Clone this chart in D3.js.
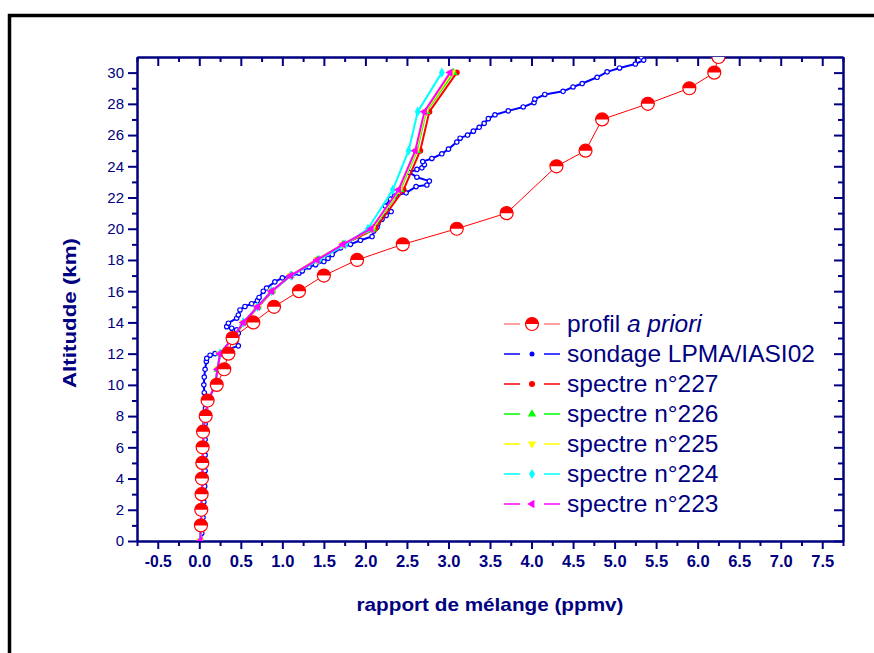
<!DOCTYPE html>
<html>
<head>
<meta charset="utf-8">
<script src="https://cdn.jsdelivr.net/npm/d3@7"></script>
<style>
  body { margin: 0; background: #fff; }
  svg { font-family: "Liberation Sans", Arial, sans-serif; }
</style>
</head>
<body>
<div id="chart"></div>
<script>
// profil a priori
const prioriAlt = [1, 2, 3, 4, 5, 6, 7, 8, 9, 10, 11, 12, 13, 14, 15, 16, 17, 18, 19, 20, 21, 24, 25, 27, 28, 29, 30, 31];
const prioriVal = [0.02, 0.024, 0.028, 0.032, 0.036, 0.04, 0.045, 0.077, 0.10, 0.21, 0.30, 0.35, 0.40, 0.65, 0.90, 1.20, 1.50, 1.90, 2.45, 3.10, 3.70, 4.30, 4.65, 4.85, 5.40, 5.90, 6.20, 6.25];

// sondage LPMA/IASI02
const sondAlt = [0, 0.5, 1, 1.5, 2, 2.5, 3, 3.5, 4, 4.5, 5, 5.5, 6, 6.5, 7, 7.5, 8, 8.5, 9, 9.5, 10, 10.5, 11, 11.5, 11.7, 11.9, 12.0,
  12.5, 12.8, 13.1, 13.3, 13.52, 13.63, 13.73, 13.95, 14.27, 14.48, 14.8, 15.02, 15.2, 15.4, 15.6, 16.0, 16.2, 16.6, 16.85, 16.95,
  17.15, 17.3, 17.55, 17.7, 17.9, 18.1, 18.35, 18.77, 19.0, 19.26, 19.5, 19.85, 20.1, 20.3, 20.6, 20.85, 21.1, 21.45, 21.9, 22.1,
  22.3, 22.7, 22.8, 23.05, 23.3, 23.6, 23.8, 23.9, 24.1, 24.3, 24.5, 24.8, 25.1, 25.55, 25.8, 26.0, 26.25, 26.5, 26.75, 27.05,
  27.3, 27.55, 27.8, 28.08, 28.3, 28.6, 28.8, 29.08, 29.3, 29.7, 30.05, 30.3, 30.55, 30.8, 31.0];
const sondVal = [0.02, 0.03, 0.035, 0.045, 0.05, 0.055, 0.06, 0.065, 0.07, 0.07, 0.08, 0.07, 0.075, 0.07, 0.065, 0.07, 0.08, 0.075, 0.07, 0.06, 0.055, 0.06, 0.07, 0.085, 0.09, 0.13, 0.19,
  0.47, 0.44, 0.45, 0.47, 0.45, 0.39, 0.33, 0.35, 0.45, 0.47, 0.49, 0.55, 0.63, 0.70, 0.72, 0.77, 0.81, 0.91, 1.00, 1.10,
  1.20, 1.24, 1.32, 1.40, 1.50, 1.55, 1.60, 1.70, 1.82, 1.94, 2.08, 2.10, 2.14, 2.15, 2.20, 2.25, 2.31, 2.24, 2.30, 2.35,
  2.49, 2.61, 2.74, 2.77, 2.62, 2.53, 2.62, 2.68, 2.71, 2.69, 2.80, 2.92, 3.00, 3.10, 3.14, 3.23, 3.30, 3.37, 3.43, 3.48,
  3.56, 3.72, 3.90, 4.03, 4.04, 4.16, 4.38, 4.50, 4.61, 4.79, 4.91, 5.06, 5.25, 5.35, 5.32];

// spectres restitués
const specAlt = [0, 1, 2, 3, 4, 5, 6, 7, 8, 9, 10, 11, 12, 13, 14, 15, 16, 17, 18, 19, 20, 22.5, 25, 27.5, 30];
const spec227 = [0.01, 0.02, 0.025, 0.03, 0.035, 0.04, 0.045, 0.05, 0.07, 0.11, 0.19, 0.22, 0.25, 0.41, 0.54, 0.71, 0.88, 1.10, 1.41, 1.74, 2.12, 2.46, 2.66, 2.77, 3.10];
const spec226 = [0.01, 0.02, 0.025, 0.03, 0.035, 0.04, 0.045, 0.05, 0.07, 0.11, 0.19, 0.22, 0.25, 0.40, 0.53, 0.70, 0.87, 1.10, 1.42, 1.73, 2.09, 2.42, 2.62, 2.73, 3.06];
const spec225 = [0.01, 0.02, 0.025, 0.03, 0.035, 0.04, 0.045, 0.05, 0.07, 0.11, 0.19, 0.22, 0.25, 0.40, 0.53, 0.70, 0.87, 1.10, 1.42, 1.73, 2.08, 2.41, 2.61, 2.72, 3.04];
const spec224 = [0.01, 0.02, 0.025, 0.03, 0.035, 0.04, 0.045, 0.05, 0.07, 0.11, 0.19, 0.22, 0.25, 0.40, 0.53, 0.70, 0.87, 1.11, 1.44, 1.76, 2.03, 2.33, 2.52, 2.63, 2.92];
const spec223 = [0.01, 0.02, 0.025, 0.03, 0.035, 0.04, 0.045, 0.05, 0.07, 0.11, 0.19, 0.22, 0.25, 0.40, 0.53, 0.70, 0.87, 1.10, 1.42, 1.73, 2.07, 2.40, 2.60, 2.71, 3.02];

const xMajor = [-0.5, 0, 0.5, 1, 1.5, 2, 2.5, 3, 3.5, 4, 4.5, 5, 5.5, 6, 6.5, 7, 7.5];
const yMajor = [0, 2, 4, 6, 8, 10, 12, 14, 16, 18, 20, 22, 24, 26, 28, 30];

const navy = "#000080";
const W = 874, H = 653;
const plot = { left: 137, right: 843, top: 57, bottom: 541 };

const svg = d3.select("#chart").append("svg")
    .attr("width", W)
    .attr("height", H);

// cadre noir
svg.append("rect")
    .attr("x", 9.5).attr("y", 15.5)
    .attr("width", W + 20).attr("height", H + 20)
    .attr("fill", "none").attr("stroke", "#000").attr("stroke-width", 3.5);

svg.append("clipPath").attr("id", "clip")
    .append("rect")
    .attr("x", plot.left).attr("y", plot.top)
    .attr("width", plot.right - plot.left).attr("height", plot.bottom - plot.top);

const x = d3.scaleLinear().domain([-0.75, 7.75]).range([plot.left, plot.right]);
const y = d3.scaleLinear().domain([0, 31]).range([plot.bottom, plot.top]);

const xMinor = d3.range(-0.75, 7.76, 0.25).filter(v => !xMajor.some(m => Math.abs(m - v) < 1e-6));
const yMinor = d3.range(1, 31, 2);

function styleAxis(g) {
    g.select(".domain").attr("stroke", navy).attr("stroke-width", 2);
    g.selectAll(".tick line").attr("stroke", navy).attr("stroke-width", 2);
    g.selectAll(".tick text").attr("fill", navy);
}

// Axe X bas
svg.append("g")
    .attr("transform", `translate(0,${plot.bottom})`)
    .call(d3.axisBottom(x).tickValues(xMinor).tickSize(5).tickFormat("").tickSizeOuter(0))
    .call(styleAxis);
const gx = svg.append("g")
    .attr("transform", `translate(0,${plot.bottom})`)
    .call(d3.axisBottom(x).tickValues(xMajor).tickSize(8).tickPadding(6).tickSizeOuter(0)
        .tickFormat(d => d.toFixed(1)))
    .call(styleAxis);
gx.selectAll(".tick text")
    .attr("font-size", "17px")
    .attr("font-weight", "bold")
    .attr("textLength", d => d < 0 ? 27 : 23)
    .attr("lengthAdjust", "spacingAndGlyphs");

// Axe X haut
svg.append("g")
    .attr("transform", `translate(0,${plot.top})`)
    .call(d3.axisBottom(x).tickValues(xMinor).tickSize(5).tickFormat("").tickSizeOuter(0))
    .call(styleAxis);
svg.append("g")
    .attr("transform", `translate(0,${plot.top})`)
    .call(d3.axisBottom(x).tickValues(xMajor).tickSize(9).tickFormat("").tickSizeOuter(0))
    .call(styleAxis);

// Axe Y gauche
svg.append("g")
    .attr("transform", `translate(${plot.left},0)`)
    .call(d3.axisLeft(y).tickValues(yMinor).tickSize(5).tickFormat("").tickSizeOuter(0))
    .call(styleAxis);
const gy = svg.append("g")
    .attr("transform", `translate(${plot.left},0)`)
    .call(d3.axisLeft(y).tickValues(yMajor).tickSize(9).tickPadding(4).tickSizeOuter(0))
    .call(styleAxis);
gy.selectAll(".tick text").attr("font-size", "15px");

// Axe Y droit
svg.append("g")
    .attr("transform", `translate(${plot.right},0)`)
    .call(d3.axisLeft(y).tickValues(yMinor).tickSize(5).tickFormat("").tickSizeOuter(0))
    .call(styleAxis);
svg.append("g")
    .attr("transform", `translate(${plot.right},0)`)
    .call(d3.axisLeft(y).tickValues(yMajor).tickSize(9).tickFormat("").tickSizeOuter(0))
    .call(styleAxis);

// Titres des axes
svg.append("text")
    .attr("x", (plot.left + plot.right) / 2)
    .attr("y", 611)
    .attr("text-anchor", "middle")
    .attr("font-size", "19px")
    .attr("font-weight", "bold")
    .attr("fill", navy)
    .attr("textLength", 267)
    .attr("lengthAdjust", "spacingAndGlyphs")
    .text("rapport de mélange (ppmv)");

svg.append("text")
    .attr("transform", "translate(76,313) rotate(-90)")
    .attr("text-anchor", "middle")
    .attr("font-size", "19px")
    .attr("font-weight", "bold")
    .attr("fill", navy)
    .attr("textLength", 150)
    .attr("lengthAdjust", "spacingAndGlyphs")
    .text("Altitudde (km)");

// marqueurs
const sym = (type, size, rot) => g => g.append("path")
    .attr("d", d3.symbol().type(type).size(size)())
    .attr("transform", `rotate(${rot})`);

function prioriMarker(g, color) {
    const r = 6.5;
    g.append("circle").attr("r", r).attr("fill", "#fff").attr("stroke", color).attr("stroke-width", 1.2);
    g.append("path").attr("d", `M${-r},0 A${r},${r} 0 0 1 ${r},0 Z`).attr("fill", color);
}

const series = [
    { name: "sondage LPMA/IASI02", alt: sondAlt, val: sondVal, color: "#0000ff", width: 2,
      marker: (g, c) => g.append("circle").attr("r", 2.2).attr("fill", "#fff").attr("stroke", c).attr("stroke-width", 1.2),
      legMarker: (g, c) => g.append("circle").attr("r", 2.5).attr("fill", c) },
    { name: "spectre n°227", alt: specAlt, val: spec227, color: "#ff0000", width: 2,
      marker: (g, c) => g.append("circle").attr("r", 3).attr("fill", c) },
    { name: "spectre n°226", alt: specAlt, val: spec226, color: "#00ff00", width: 2,
      marker: (g, c) => sym(d3.symbolTriangle, 30, 0)(g).attr("fill", c) },
    { name: "spectre n°225", alt: specAlt, val: spec225, color: "#ffff00", width: 2,
      marker: (g, c) => sym(d3.symbolTriangle, 30, 180)(g).attr("fill", c) },
    { name: "spectre n°224", alt: specAlt, val: spec224, color: "#00ffff", width: 2,
      marker: (g, c) => sym(d3.symbolDiamond, 30, 0)(g).attr("fill", c) },
    { name: "spectre n°223", alt: specAlt, val: spec223, color: "#ff00ff", width: 2,
      marker: (g, c) => sym(d3.symbolTriangle, 30, -90)(g).attr("fill", c) }
];

const line = d3.line().x(d => x(d[0])).y(d => y(d[1]));
const plotArea = svg.append("g").attr("clip-path", "url(#clip)");

// profil a priori (trait fin)
const prioriPts = prioriAlt.map((a, i) => [prioriVal[i], a]);
plotArea.append("path")
    .attr("d", line(prioriPts))
    .attr("fill", "none")
    .attr("stroke", "#ff0000")
    .attr("stroke-width", 1);

series.forEach(s => {
    const pts = s.alt.map((a, i) => [s.val[i], a]);
    plotArea.append("path")
        .attr("d", line(pts))
        .attr("fill", "none")
        .attr("stroke", s.color)
        .attr("stroke-width", s.width)
        .attr("stroke-linejoin", "round");
    pts.forEach(p => {
        const g = plotArea.append("g").attr("transform", `translate(${x(p[0])},${y(p[1])})`);
        s.marker(g, s.color);
    });
});

prioriPts.forEach(p => {
    const g = plotArea.append("g").attr("transform", `translate(${x(p[0])},${y(p[1])})`);
    prioriMarker(g, "#ff0000");
});

// Légende
const legend = svg.append("g").attr("transform", "translate(504,0)");
const rowsY = [324, 354, 384, 414, 444, 474, 504];
const legItems = [{ name: "profil", color: "#ff0000", width: 1, priori: true }].concat(series);

legItems.forEach((s, i) => {
    const g = legend.append("g").attr("transform", `translate(0,${rowsY[i]})`);
    const lc = s.priori ? "#ff8080" : s.color;
    g.append("line").attr("x1", 0).attr("x2", 16).attr("stroke", lc).attr("stroke-width", 1.5);
    g.append("line").attr("x1", 40).attr("x2", 56).attr("stroke", lc).attr("stroke-width", 1.5);
    const m = g.append("g").attr("transform", "translate(28,0)");
    if (s.priori) prioriMarker(m, "#ff0000");
    else if (s.legMarker) s.legMarker(m, s.color);
    else s.marker(m, s.color);

    const t = g.append("text")
        .attr("x", 63)
        .attr("y", 8)
        .attr("font-size", "24.5px")
        .attr("fill", navy);
    if (s.priori) {
        t.append("tspan").text("profil ");
        t.append("tspan").attr("font-style", "italic").text("a priori");
    } else {
        t.text(s.name);
    }
});
</script>
</body>
</html>
